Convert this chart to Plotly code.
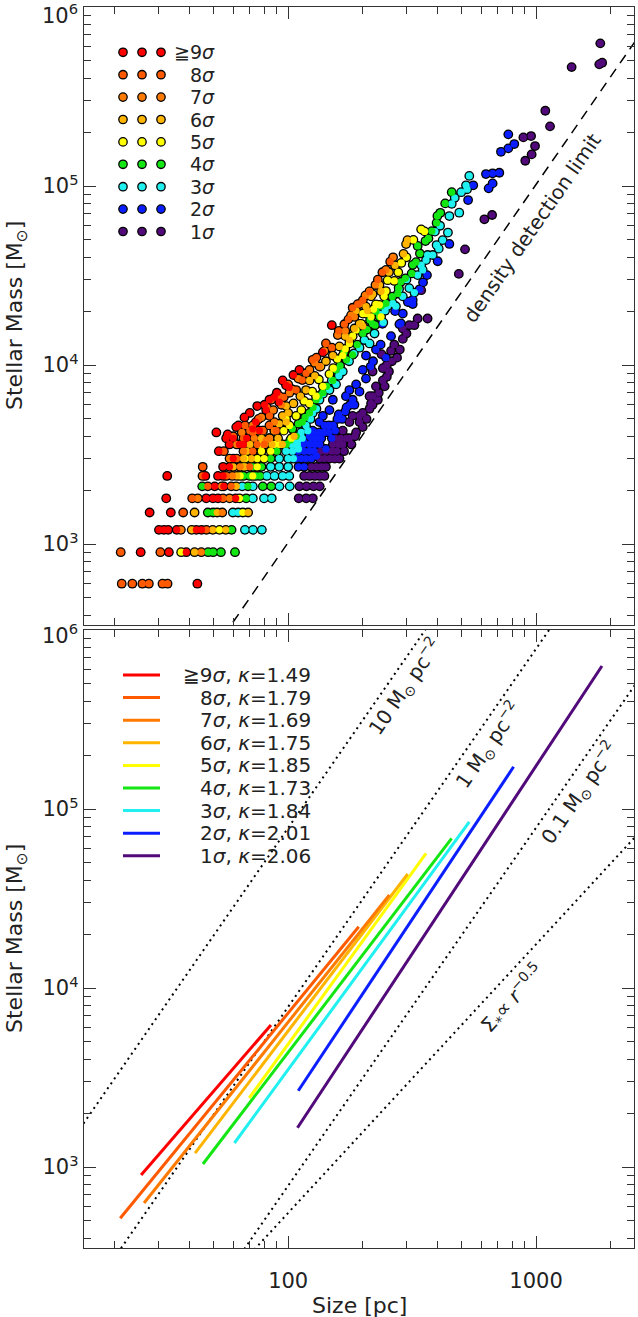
import math
import plotly.graph_objects as go

# ---------------- data ----------------
sigma_labels = ["≧9", "8", "7", "6", "5", "4", "3", "2", "1"]
kappa_values = ["1.49", "1.79", "1.69", "1.75", "1.85", "1.73", "1.84", "2.01", "2.06"]
colors = ["#ff0000", "#ff5a00", "#ff7a00", "#ffb400", "#ffff00",
          "#14e614", "#20f0f0", "#0a1eff", "#520a7a"]

# (size [pc], stellar mass [Msun]) per significance level
sig9_pts = [(43, 600),
            (25.4, 900), (33, 900), (38.8, 900),
            (30.1, 1200), (31.5, 1200), (32.8, 1200), (35.5, 1200), (42.6, 1200), (44.7, 1200),
            (27.6, 1500), (33.6, 1500),
            (32.2, 1800), (46.7, 1800), (49.7, 1800), (52.1, 1800), (61.4, 1800),
            (50.5, 2100), (55, 2100),
            (32.5, 2400), (46.3, 2400), (52.1, 2400), (54.6, 2400),
            (54.6, 2700), (58, 2700), (60, 3000), (52.5, 3300),
            (58, 3600), (63.6, 3600), (66, 3600), (56.2, 3900), (60, 3900),
            (51.3, 4200), (76.6, 4300), (61.7, 4500), (74, 4800),
            (66.6, 5100), (81.5, 5600), (80.3, 6000), (84, 6400), (88, 6600),
            (98, 7700), (101, 7500), (111, 9400), (138, 11800), (150, 16700),
            (57, 4100), (63, 4600), (70, 5400), (75, 5900), (90, 7000), (95, 8200),
            (105, 8800), (72, 4400), (68, 3900), (92, 6200)]
sig8_pts = [(21.3, 600), (23.5, 600), (25.8, 600), (27.4, 600), (31.1, 600), (32.6, 600),
            (21.1, 900), (30.5, 900), (46.8, 1200), (37.7, 1500),
            (41, 1800), (54.6, 1800), (47.4, 2100), (58.9, 2100),
            (45.1, 2400), (56.2, 2400), (45.2, 2700), (70, 2700), (62, 3000),
            (55, 3300), (72, 3300), (75, 3600), (80, 3600), (66, 3900),
            (70, 4300), (79, 4300), (84, 4600), (72, 4200),
            (85.4, 6400), (92.2, 6700), (84.1, 5200), (89.5, 4300),
            (107.7, 7250), (114, 8240), (125.5, 10700), (142, 13200),
            (168.6, 16900), (182, 20900), (213, 25700), (258, 37800), (190.8, 21900),
            (60, 4000), (67, 4600), (76, 5000), (82, 5800), (96, 6600), (100, 7800),
            (118, 9000), (130, 11000), (150, 12500), (160, 15500), (175, 18000),
            (200, 23000), (230, 30000), (240, 33000)]
sig7_pts = [(44.6, 900), (36.9, 1200), (54.2, 1500), (43.2, 1800), (58, 1800),
            (53.9, 2100), (59.5, 2400), (64, 2700), (58, 3000), (66, 3300), (62, 3600),
            (73, 3900), (84, 3900), (76, 4300), (88, 4300), (72, 4600), (88, 4800),
            (81.5, 3800), (101.2, 7000), (79, 4300), (121.9, 9400), (133.7, 9800),
            (158.6, 14700), (185, 18600), (179.4, 19000), (194, 21900), (248, 34000),
            (65, 4200), (78, 5100), (87, 5600), (94, 6000), (104, 7300), (110, 8400),
            (128, 10300), (140, 12000), (170, 15500), (205, 24500), (225, 28000), (265, 40000)]
sig6_pts = [(41.9, 900), (40.8, 1200), (49.6, 1200), (56, 1200),
            (41.9, 1500), (51.7, 1500), (68.9, 1500), (61.7, 2100), (62, 2400),
            (60, 2700), (67, 2700), (66, 3000), (71, 3000), (68, 3300), (70, 3600), (86, 3600),
            (78, 3900), (91, 3900), (80.3, 3600), (94.7, 3600), (105.6, 4000), (84.1, 3900),
            (98.2, 4800), (95, 5200), (98.2, 5900), (118, 7250), (122, 8200),
            (151.4, 11300), (161, 12700), (176.6, 13800), (200, 16500),
            (219, 24900), (213, 25800), (216, 24200), (206, 21200), (209, 20100),
            (188, 20100), (194, 17000), (233.5, 28000), (237, 25800),
            (292, 41800), (299, 47400), (303, 49900),
            (88, 4300), (92, 4700), (100, 5400), (105, 6100), (112, 6700), (128, 8700),
            (135, 9800), (142, 10500), (170, 14500), (185, 16000), (255, 33000), (270, 36000)]
sig5_pts = [(37, 900), (52.8, 1200), (65.6, 1500), (63.6, 1800), (64, 2400), (72, 2400),
            (66, 2700), (75, 2700), (67, 3000), (75, 3000), (80, 3000), (78, 3300), (85, 3300),
            (88, 3600), (76.6, 3600), (92.2, 3600), (103, 3900), (101.2, 4600), (107.7, 5200),
            (121.9, 6100), (129.6, 6700), (138, 7600), (146.7, 8900),
            (166, 11300), (176.6, 13200), (188, 15700), (206, 19400), (233.5, 21700),
            (197, 17000), (200, 19400), (216, 18600), (237, 18600), (221, 20500), (226, 21800),
            (244, 24200), (248, 25900), (252, 29800), (268, 29500), (286, 37200),
            (344, 57300), (355, 55800),
            (96, 4300), (98, 5000), (113, 5600), (116, 6300), (125, 7100), (133, 8300),
            (152, 9600), (158, 10800), (170, 12300), (182, 14500), (278, 33000), (300, 40000),
            (320, 50000)]
sig4_pts = [(47.5, 900), (49.8, 900), (53.5, 900), (61, 900), (59.1, 1200),
            (47.4, 1500), (49.8, 1500), (67.7, 1800),
            (45, 2100), (68.8, 2100), (79, 2100), (85.4, 2100),
            (66, 2400), (70, 2400), (74, 2400), (77, 2400), (72, 2700), (78, 2700),
            (85, 3000), (90, 3300), (94, 3600),
            (98.2, 3600), (107.7, 4000), (114, 4800), (121.9, 5400), (129.6, 6400), (138, 7000),
            (151.4, 8200), (156, 9400), (172, 10700), (182, 11400), (200, 15000), (219, 17000),
            (233.5, 18600), (214, 17800), (224, 16700), (226, 20000), (237, 21300), (248, 22100),
            (263, 24100), (277, 25100), (279, 27000), (285, 29200), (297, 30500), (315, 32500),
            (318, 36300), (328, 37600), (333, 46300), (358, 49300), (368, 51000),
            (397, 62200), (400, 68100), (411, 70900), (457, 92400),
            (102, 3800), (104, 4400), (110, 4700), (117, 5100), (126, 5800), (133, 6700),
            (143, 7600), (162, 9900), (168, 11800), (190, 13000), (208, 15800), (340, 42000),
            (380, 56000), (430, 80000)]
sig3_pts = [(66.9, 1200), (72.1, 1200), (78.3, 1200), (59.8, 1500), (62.8, 1500),
            (72, 1800), (79.9, 1800), (85.8, 1800),
            (65.2, 2100), (72, 2100), (92.2, 2100), (101.4, 2100),
            (82, 2400), (88, 2400), (95, 2400), (101, 2400), (85, 2700), (92, 2700), (100, 2700),
            (92, 3000), (100, 3000), (105, 3000), (98, 3300), (104, 3300), (103, 3600), (109, 3600),
            (106, 3600), (109.3, 3800), (112.8, 4200), (118, 4600), (125.5, 5400), (133.7, 6400),
            (146.7, 7250), (156, 7800), (166, 9200), (194, 12500), (213, 13200), (223, 15000),
            (242, 17300), (233.5, 19200), (246, 20100), (252, 21400), (272, 21300), (264, 22100),
            (290, 24200), (323, 25400), (308, 26900), (333, 31800), (349, 34000), (344, 36200),
            (360, 38600), (365, 41200), (383, 41200), (405, 44700), (397, 46800), (420, 49900),
            (441, 55000), (391, 55700), (447, 68000), (490, 71000), (457, 79600), (499, 92400),
            (527, 96000), (522, 101000), (538, 114000),
            (110, 3400), (114, 3900), (120, 4300), (123, 5000), (130, 5700), (138, 6900),
            (150, 8200), (160, 8700), (176, 10500), (184, 11600), (203, 13800), (280, 26500),
            (300, 30000), (410, 60000), (470, 86000)]
sig2_pts = [(110, 2700), (116, 2700), (108, 3000), (113, 3000), (118, 3000), (124, 3000),
            (110, 3300), (116, 3300), (122, 3300), (127, 3300),
            (115, 3600), (122, 3600), (128, 3600), (134, 3600), (124, 3900), (130, 3900), (136, 3900),
            (128, 4200), (134, 4200), (140, 4200), (146, 4200),
            (140, 4600), (146, 4600), (152, 4600), (158, 5000), (165, 5000), (170, 5500),
            (178, 6000), (185, 6000), (116, 3700), (121.9, 4000), (125.5, 4300), (133.7, 4800),
            (138, 5200), (146.7, 5600), (151.4, 6400), (171, 6700), (176.6, 7250), (188, 7800),
            (206, 8400), (200, 9400), (206, 11300), (226, 12200), (248, 11000), (240, 17000),
            (281, 16900), (290, 19400), (285, 17100), (304, 22500), (318, 23100), (308, 22600),
            (318, 21900), (339, 26500), (363, 31800), (401, 38000), (447, 47500), (532, 83500),
            (558, 101000), (644, 97100), (668, 103500), (628, 116700), (668, 117800), (711, 118700),
            (722, 155400), (773, 162400), (817, 171700), (773, 194500),
            (130, 3100), (142, 3400), (150, 3900), (155, 4300), (160, 5300), (172, 5800),
            (182, 6400), (194, 7100), (215, 9800), (220, 10500), (236, 13000), (260, 14500),
            (270, 20000), (350, 29000)]
sig1_pts = [(110.3, 1800), (118.2, 1800), (125.7, 1800),
            (111, 2100), (118.5, 2100), (126.5, 2100), (134, 2100),
            (116, 2400), (122, 2400), (128, 2400), (134, 2400), (140, 2400),
            (124, 2700), (130, 2700), (136, 2700), (142, 2700),
            (134, 3000), (140, 3000), (147, 3000), (154, 3000), (161, 3000),
            (135, 3300), (142, 3300), (150, 3300), (157, 3300),
            (151.4, 3600), (160, 3600), (166, 3600), (155, 3900), (163, 3900), (172, 3900), (176.6, 3900),
            (166, 4300), (188, 4200), (176.6, 4800), (194, 4800), (182, 5200), (194, 5200),
            (200, 5400), (213, 5700), (219, 6000), (216, 6100), (219, 6700), (213, 6700),
            (226, 7600), (241, 8200), (241, 9600), (219, 9200),
            (250, 10000), (260, 12000), (275, 11000), (290, 14000), (300, 15000),
            (308, 16700), (323, 16700), (333, 18200), (365, 18200),
            (344, 26200), (488, 32300), (517, 44300), (619, 65200), (665, 68900),
            (905, 138500), (960, 150300), (991, 167300), (889, 187000), (955, 190300),
            (1090, 263600), (1139, 215600), (1392, 462000), (1800, 478600), (1849, 488900),
            (1817, 627000),
            (168, 3300), (180, 3600), (186, 4000), (200, 4500), (207, 5000), (230, 6400),
            (232, 7000), (250, 8600), (255, 9200), (268, 13000), (282, 12200), (262, 10500),
            (245, 7600), (238, 11500), (290, 16000)]
point_sets = [sig9_pts, sig8_pts, sig7_pts, sig6_pts, sig5_pts,
              sig4_pts, sig3_pts, sig2_pts, sig1_pts]

# power-law fits (bottom panel): end points
fit_size_lo = [25.5, 21.0, 26.2, 42.1, 69.6, 45.3, 60.7, 109.8, 109]
fit_size_hi = [85.2, 192.6, 256, 303.6, 360, 456.6, 538, 812, 1845]
fit_mass_lo = [902, 517, 629, 1197, 2430, 1040, 1362, 2669, 1658]
fit_mass_hi = [6214, 22000, 33080, 43350, 56560, 68600, 84900, 172300, 630000]

# reference lines (surface density) and detection limit
ref10_size, ref10_mass = [14, 560], [1540, 2.463e6]
ref1_size, ref1_mass = [14, 2600], [154, 5.31e6]
ref01_size, ref01_mass = [40, 2600], [126, 5.31e5]
refr15_size, refr15_mass = [50, 2600], [196, 73580]
limit_size, limit_mass = [50, 2600], [255, 690000]

x_major = [100, 1000]
x_major_text = ["100", "1000"]
y_major = [1e3, 1e4, 1e5, 1e6]
y_major_text = ["10<sup>3</sup>", "10<sup>4</sup>", "10<sup>5</sup>", ""]
y_top_label = "10<sup>6</sup>"

# ---------------- layout constants ----------------
W, H = 638, 1317
ML, MR, MT, MB = 84, 4, 7, 69
PW = W - ML - MR
PH = H - MT - MB
PANEL = 618
dom_bot = [0, PANEL / PH]
dom_top = [1 - PANEL / PH, 1]
XR = [math.log10(15.0), math.log10(2485)]
YR = [2.5475, 6.0005]
FONT = "DejaVu Sans"
AX = "#333333"
TXT = "#222222"

x_minor = [m * 10 ** e for e in (1, 2, 3) for m in range(2, 10) if 15 <= m * 10 ** e <= 2485]
y_minor = [m * 10 ** e for e in (2, 3, 4, 5) for m in range(2, 10) if m * 10 ** e >= 350]

fig = go.Figure()

# top panel: black outlines first, coloured fills on top
all_s = [p[0] for pts in point_sets for p in pts]
all_m = [p[1] for pts in point_sets for p in pts]
fig.add_trace(go.Scatter(x=all_s, y=all_m, mode="markers", xaxis="x2", yaxis="y2",
                         marker=dict(color="black", size=9.8),
                         showlegend=False, hoverinfo="skip"))
for i in reversed(range(9)):
    pts = point_sets[i]
    fig.add_trace(go.Scatter(x=[p[0] for p in pts], y=[p[1] for p in pts], mode="markers",
                             xaxis="x2", yaxis="y2",
                             marker=dict(color=colors[i], size=7.2),
                             showlegend=False))

fig.add_trace(go.Scatter(x=limit_size, y=limit_mass, mode="lines", xaxis="x2", yaxis="y2",
                         line=dict(color="black", width=1.5, dash="10px,7px"), showlegend=False))

# bottom panel
for s_, m_ in [(ref10_size, ref10_mass), (ref1_size, ref1_mass),
               (ref01_size, ref01_mass), (refr15_size, refr15_mass)]:
    fig.add_trace(go.Scatter(x=s_, y=m_, mode="lines", xaxis="x", yaxis="y",
                             line=dict(color="black", width=2, dash="2px,4px"), showlegend=False))
for i in reversed(range(9)):
    fig.add_trace(go.Scatter(x=[fit_size_lo[i], fit_size_hi[i]], y=[fit_mass_lo[i], fit_mass_hi[i]],
                             mode="lines", xaxis="x", yaxis="y",
                             line=dict(color=colors[i], width=3), showlegend=False))

annotations = []
# legends (pixel-unit overlay axes)
for i in range(9):
    yrow = PANEL - (45.3 + 22.4 * i)
    fig.add_trace(go.Scatter(x=[39, 58, 77], y=[yrow] * 3, mode="markers", xaxis="x3", yaxis="y3",
                             marker=dict(color=colors[i], size=8.4, line=dict(color="black", width=1.3)),
                             showlegend=False, hoverinfo="skip"))
    annotations.append(dict(xref="x3", yref="y3", x=133, y=yrow, xanchor="right", yanchor="middle",
                            text=sigma_labels[i] + "<i>σ</i>", showarrow=False,
                            font=dict(family=FONT, size=19, color=TXT)))
    yrow2 = PANEL - (45 + 22.6 * i)
    fig.add_trace(go.Scatter(x=[39, 76], y=[yrow2] * 2, mode="lines", xaxis="x4", yaxis="y4",
                             line=dict(color=colors[i], width=3), showlegend=False, hoverinfo="skip"))
    annotations.append(dict(xref="x4", yref="y4", x=229, y=yrow2, xanchor="right", yanchor="middle",
                            text=sigma_labels[i] + "<i>σ</i>, <i>κ</i>=" + kappa_values[i],
                            showarrow=False, font=dict(family=FONT, size=20, color=TXT)))

# empty traces so the overlay tick subplots exist
for xa, ya in [("x5", "y5"), ("x6", "y6"), ("x7", "y7")]:
    fig.add_trace(go.Scatter(x=[], y=[], xaxis=xa, yaxis=ya, showlegend=False))

L = math.log10
annotations += [
    dict(xref="x2", yref="y2", x=L(966), y=L(58200), text="density detection limit",
         textangle=-55.3, showarrow=False, font=dict(family=FONT, size=20, color=TXT)),
    dict(xref="x", yref="y", x=L(297), y=L(486000), text="10 M<sub>⊙</sub> pc<sup>−2</sup>",
         textangle=-55.3, showarrow=False, font=dict(family=FONT, size=20, color=TXT)),
    dict(xref="x", yref="y", x=L(642), y=L(228000), text="1 M<sub>⊙</sub> pc<sup>−2</sup>",
         textangle=-55.3, showarrow=False, font=dict(family=FONT, size=20, color=TXT)),
    dict(xref="x", yref="y", x=L(1509), y=L(123000), text="0.1 M<sub>⊙</sub> pc<sup>−2</sup>",
         textangle=-55.3, showarrow=False, font=dict(family=FONT, size=20, color=TXT)),
    dict(xref="x", yref="y", x=L(802), y=L(8790), text="Σ<sub>*</sub>∝ <i>r</i><sup>−0.5</sup>",
         textangle=-48, showarrow=False, font=dict(family=FONT, size=20, color=TXT)),
    dict(xref="paper", yref="paper", x=(16 - ML) / PW, y=(dom_top[0] + dom_top[1]) / 2,
         text="Stellar Mass [M<sub>⊙</sub>]", textangle=-90, showarrow=False,
         xanchor="center", yanchor="middle", font=dict(family=FONT, size=22, color=TXT)),
    dict(xref="paper", yref="paper", x=(16 - ML) / PW, y=(dom_bot[0] + dom_bot[1]) / 2,
         text="Stellar Mass [M<sub>⊙</sub>]", textangle=-90, showarrow=False,
         xanchor="center", yanchor="middle", font=dict(family=FONT, size=22, color=TXT)),
    dict(xref="paper", yref="paper", x=0.5, y=-(1305 - (H - MB)) / PH, text="Size [pc]",
         showarrow=False, xanchor="center", yanchor="middle", font=dict(family=FONT, size=22, color=TXT)),
    # the 10^6 labels sit just below each panel's top edge
    dict(xref="paper", yref="paper", x=(80 - ML) / PW, y=((H - MB) - 14) / PH, text=y_top_label,
         showarrow=False, xanchor="right", yanchor="middle", font=dict(family=FONT, size=21, color=TXT)),
    dict(xref="paper", yref="paper", x=(80 - ML) / PW, y=((H - MB) - 634) / PH, text=y_top_label,
         showarrow=False, xanchor="right", yanchor="middle", font=dict(family=FONT, size=21, color=TXT)),
]

base = dict(showline=True, linecolor=AX, linewidth=1.4, mirror="allticks", ticks="inside",
            tickwidth=1.3, tickcolor=AX, showgrid=False, zeroline=False, tickmode="array",
            automargin=False)

def xmajor(anchor):
    return dict(base, type="log", range=XR, anchor=anchor, domain=[0, 1], ticklen=12,
                tickvals=x_major, showticklabels=False)

def ymajor(anchor, domain):
    return dict(base, type="log", range=YR, anchor=anchor, domain=domain, ticklen=12,
                tickvals=y_major, ticktext=y_major_text,
                tickfont=dict(family=FONT, size=21, color=TXT))

def xminor(anchor, over):
    return dict(base, type="log", range=XR, anchor=anchor, overlaying=over, ticklen=6.5,
                tickvals=x_minor, showticklabels=False)

def yminor(anchor, over):
    return dict(base, type="log", range=YR, anchor=anchor, overlaying=over, ticklen=6.5,
                tickvals=y_minor, showticklabels=False)

hidden = dict(visible=False, showgrid=False, zeroline=False, fixedrange=True, automargin=False)
fig.update_layout(
    width=W, height=H, margin=dict(l=ML, r=MR, t=MT, b=MB, pad=0, autoexpand=False),
    paper_bgcolor="white", plot_bgcolor="rgba(0,0,0,0)", showlegend=False,
    xaxis=xmajor("y"),
    yaxis=ymajor("x", dom_bot),
    xaxis2=xmajor("y2"),
    yaxis2=ymajor("x2", dom_top),
    xaxis3=dict(hidden, range=[0, PW], anchor="y3", domain=[0, 1]),
    yaxis3=dict(hidden, range=[0, PANEL], anchor="x3", domain=dom_top),
    xaxis4=dict(hidden, range=[0, PW], anchor="y4", domain=[0, 1]),
    yaxis4=dict(hidden, range=[0, PANEL], anchor="x4", domain=dom_bot),
    xaxis5=xminor("y5", "x"),
    yaxis5=yminor("x5", "y"),
    xaxis6=xminor("y6", "x2"),
    yaxis6=yminor("x6", "y2"),
    # tick labels of the size axis, pushed below the frame by invisible outside ticks
    xaxis7=dict(type="log", range=XR, anchor="y7", overlaying="x", showline=False, showgrid=False,
                zeroline=False, tickmode="array", tickvals=x_major, ticktext=x_major_text,
                ticks="outside", ticklen=14, tickcolor="rgba(0,0,0,0)", automargin=False,
                tickfont=dict(family=FONT, size=21, color=TXT)),
    yaxis7=dict(type="log", range=YR, anchor="x7", overlaying="y", visible=False, automargin=False),
    annotations=annotations,
)

fig.write_html("out.html", config={"displayModeBar": False})
